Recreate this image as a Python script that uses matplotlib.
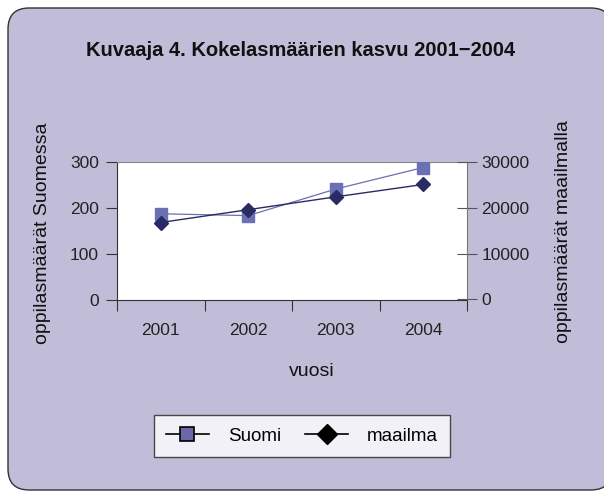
import matplotlib
matplotlib.use("Agg")
import matplotlib.pyplot as plt
from matplotlib.patches import FancyBboxPatch
from matplotlib.lines import Line2D

years = ["2001", "2002", "2003", "2004"]
suomi = [187, 183, 241, 288]
maailma = [16800, 19600, 22400, 25100]
left_ticks = [0, 100, 200, 300]
right_ticks = [0, 10000, 20000, 30000]

BG = "#c1bdd8"
C_SUOMI = "#6b6fb3"
C_MAAILMA = "#2b2b63"
FONT = "Liberation Sans"
plt.rcParams["font.family"] = [FONT, "DejaVu Sans"]

fig = plt.figure(figsize=(6.04, 4.92), dpi=100)
fig.patch.set_facecolor("white")

# rounded background panel
W, H = 604, 492
panel = FancyBboxPatch((8 / W, 2 / H), 1.0, (H - 10) / H,
                       boxstyle="round,pad=0,rounding_size=0.035",
                       transform=fig.transFigure, facecolor=BG, edgecolor="#333333",
                       linewidth=1.0, mutation_aspect=W / H, zorder=-10)
fig.patches.append(panel)

ax = fig.add_axes([117 / W, 1 - 299.5 / H, 350 / W, 137.5 / H])
ax.set_facecolor("white")
x = list(range(len(years)))
ax.plot(x, suomi, color=C_SUOMI, lw=0.9, marker="s", ms=8, mfc=C_SUOMI, mec=C_SUOMI, zorder=3)
ax.set_xlim(-0.5, len(years) - 0.5)
ax.set_ylim(0, 300)
ax.set_yticks(left_ticks)
ax.set_xticks([i - 0.5 for i in range(len(years) + 1)])
ax.set_xticklabels([])
ax.set_xticks(x, minor=True)
ax.set_xticklabels(years, minor=True)
ax.tick_params(axis="x", which="minor", length=0, pad=17, labelsize=12.5, colors="#222222")
ax.tick_params(axis="x", which="major", length=8, direction="out", color="#333333")
ax.tick_params(axis="y", length=8, direction="out", labelsize=12.5, pad=5, color="#333333", labelcolor="#222222")
for s in ["left", "bottom"]:
    ax.spines[s].set_color("#333333")
ax.spines["top"].set_color("#888888")
ax.spines["right"].set_visible(False)

ax2 = ax.twinx()
ax2.plot(x, maailma, color=C_MAAILMA, lw=1.0, marker="D", ms=7, mfc=C_MAAILMA, mec=C_MAAILMA, zorder=3)
ax2.set_ylim(0, 30000)
ax2.set_yticks(right_ticks)
ax2.tick_params(axis="y", length=15, direction="inout", labelsize=12.5, pad=3, color="#555555", labelcolor="#222222")
ax2.spines["right"].set_color("#777777")
ax2.spines["top"].set_visible(False)
ax2.spines["left"].set_visible(False)
ax2.spines["bottom"].set_visible(False)

fig.text(301 / W, 1 - 50 / H, "Kuvaaja 4. Kokelasmäärien kasvu 2001\u22122004",
         ha="center", va="center", fontsize=14.5, fontweight="bold", color="#111111")
fig.text(312 / W, 1 - 371 / H, "vuosi", ha="center", va="center", fontsize=14, color="#111111")
fig.text(43 / W, 1 - 233 / H, "oppilasmäärät Suomessa", ha="center", va="center",
         rotation=90, fontsize=14, color="#111111")
fig.text(563 / W, 1 - 232 / H, "oppilasmäärät maailmalla", ha="center", va="center",
         rotation=90, fontsize=14, color="#111111")

handles = [
    Line2D([], [], color="black", lw=1.2, marker="s", ms=10, mfc="#6b67a8", mec="black", mew=1.2),
    Line2D([], [], color="black", lw=1.2, marker="D", ms=10, mfc="black", mec="black"),
]
leg = fig.legend(handles, ["Suomi", "maailma"], loc="center", bbox_to_anchor=(302 / W, 1 - 436 / H),
                 ncol=2, frameon=True, fancybox=False, fontsize=13.5, handlelength=2.3,
                 columnspacing=1.3, handletextpad=1.0, borderpad=0.65)
leg.get_frame().set_edgecolor("#222222")
leg.get_frame().set_linewidth(1.0)
leg.get_frame().set_facecolor("white")

fig.savefig("out.png", dpi=100, facecolor=fig.get_facecolor())
